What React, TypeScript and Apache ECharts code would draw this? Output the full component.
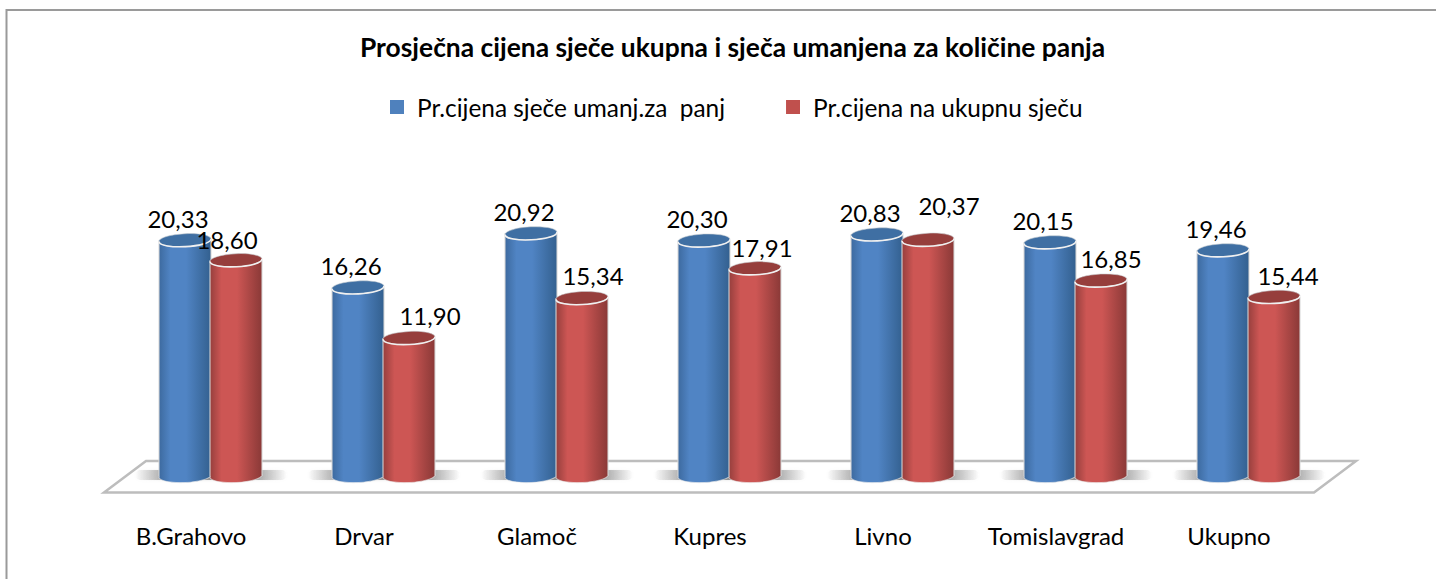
import React, { useEffect, useRef } from "react";
import * as echarts from "echarts";

const categories = ["B.Grahovo", "Drvar", "Glamoč", "Kupres", "Livno", "Tomislavgrad", "Ukupno"];
const umanjenaValues = [20.33, 16.26, 20.92, 20.3, 20.83, 20.15, 19.46];
const ukupnaValues = [18.6, 11.9, 15.34, 17.91, 20.37, 16.85, 15.44];
const redLabelDx = [-9, 21, 11, 7, 21, 10, 14];
const redLabelDy = [-21, -22, -23, -21, -34, -22, -21];
const titleText = "Prosječna cijena sječe ukupna i sječa umanjena za količine panja";
const seriesNames = ["Pr.cijena sječe umanj.za  panj", "Pr.cijena na ukupnu sječu"];

const FONT = "Lato";
const RX = 26;
const RY = 6.5;
const TILT = 0.05;

function sideGradient(edgeL: string, mid: string, edgeR: string) {
  return new echarts.graphic.LinearGradient(0, 0, 1, 0, [
    { offset: 0, color: edgeL },
    { offset: 0.22, color: mid },
    { offset: 0.52, color: mid },
    { offset: 1, color: edgeR },
  ]);
}

function cylinder(offset: number, side: any, topColor: string, dxOf: (i: number) => number, dyOf: (i: number) => number) {
  return (params: any, api: any) => {
    const i = api.value(0);
    const v = api.value(1);
    const [cxBand, top] = api.coord([i, v]);
    const [, base] = api.coord([i, 0]);
    const cx = cxBand + offset;
    return {
      type: "group",
      children: [
        {
          type: "ellipse",
          x: cx,
          y: base,
          rotation: TILT,
          shape: { cx: 0, cy: 0, rx: RX, ry: RY },
          style: { fill: side, stroke: "rgba(235,235,235,0.6)", lineWidth: 1 },
        },
        {
          type: "rect",
          shape: { x: cx - RX, y: top, width: RX * 2, height: base - top },
          style: { fill: side },
        },
        {
          type: "line",
          shape: { x1: cx - RX, y1: top, x2: cx - RX, y2: base },
          style: { stroke: "rgba(215,215,215,0.7)", lineWidth: 1.5 },
        },
        {
          type: "line",
          shape: { x1: cx + RX, y1: top, x2: cx + RX, y2: base },
          style: { stroke: "rgba(215,215,215,0.7)", lineWidth: 1.5 },
        },
        {
          type: "ellipse",
          x: cx,
          y: top,
          rotation: TILT,
          shape: { cx: 0, cy: 0, rx: RX, ry: RY },
          style: { fill: topColor, stroke: "rgba(200,205,210,0.55)", lineWidth: 1 },
        },
        {
          type: "bezierCurve",
          x: cx,
          y: top,
          rotation: TILT,
          shape: { x1: -RX, y1: 0, x2: RX, y2: 0, cpx1: -RX, cpy1: RY * 1.33, cpx2: RX, cpy2: RY * 1.33 },
          style: { fill: "none", stroke: "#f0f0f0", lineWidth: 1.6 },
        },
        {
          type: "text",
          z2: 10,
          style: {
            x: cx + dxOf(i),
            y: top + dyOf(i),
            text: v.toFixed(2).replace(".", ","),
            fill: "#000",
            font: `24px ${FONT}`,
            align: "center",
            verticalAlign: "middle",
          },
        },
      ],
    };
  };
}

function floorShadow(params: any, api: any) {
  const i = api.value(0);
  const [cx, base] = api.coord([i, 0]);
  return {
    type: "rect",
    shape: { x: cx - 76, y: base - 6, width: 152, height: 10, r: 5 },
    style: {
      fill: new echarts.graphic.LinearGradient(0, 0, 1, 0, [
        { offset: 0, color: "rgba(125,125,125,0)" },
        { offset: 0.25, color: "rgba(125,125,125,0.8)" },
        { offset: 0.75, color: "rgba(125,125,125,0.8)" },
        { offset: 1, color: "rgba(125,125,125,0)" },
      ]),
      shadowBlur: 3,
      shadowColor: "rgba(170,170,170,0.4)",
    },
  };
}

export default function App() {
  const ref = useRef<HTMLDivElement>(null);
  useEffect(() => {
    document.body.style.margin = "0";
    const chart = echarts.init(ref.current!, undefined, { renderer: "svg" });
    chart.setOption({
      animation: false,
      backgroundColor: "#fff",
      title: {
        text: titleText,
        left: 360,
        top: 34,
        padding: 0,
        textStyle: { fontFamily: FONT, fontWeight: "bold", fontSize: 26.4, color: "#000" },
      },
      legend: {
        data: seriesNames,
        left: 390,
        top: 95,
        padding: 0,
        itemGap: 61,
        itemWidth: 14,
        itemHeight: 14,
        icon: "rect",
        textStyle: { fontFamily: FONT, fontSize: 24.4, color: "#000", padding: [0, 0, 0, 8] },
      },
      grid: { left: 124.5, width: 1211, top: 186, height: 290 },
      xAxis: {
        type: "category",
        data: categories,
        axisLine: { show: false },
        axisTick: { show: false },
        axisLabel: {
          interval: 0,
          color: "#000",
          fontFamily: FONT,
          fontSize: 24,
          margin: 47,
          padding: [0, 40, 0, 0],
        },
      },
      yAxis: { type: "value", min: 0, max: 25, show: false },
      graphic: [
        {
          type: "polygon",
          z: 0,
          shape: { points: [[104, 492.5], [1314, 492.5], [1356, 461], [146, 461]] },
          style: { fill: "#fff", stroke: "#bdbdbd", lineWidth: 2.5 },
        },
        {
          type: "line",
          z: 0,
          shape: { x1: 6, y1: 10, x2: 1436, y2: 10 },
          style: { stroke: "#9a9a9a", lineWidth: 2 },
        },
        {
          type: "line",
          z: 0,
          shape: { x1: 6.5, y1: 9, x2: 6.5, y2: 579 },
          style: { stroke: "#9a9a9a", lineWidth: 2 },
        },
      ],
      series: [
        {
          type: "custom",
          name: "shadow",
          z: 1,
          silent: true,
          data: categories.map((_, i) => [i, 0]),
          renderItem: floorShadow,
        },
        {
          type: "custom",
          name: seriesNames[0],
          z: 2,
          itemStyle: { color: "#4f81bd" },
          data: umanjenaValues.map((v, i) => [i, v]),
          encode: { x: 0, y: 1 },
          renderItem: cylinder(-26, sideGradient("#3d6a9f", "#5084c4", "#33608f"), "#3f6fa3", () => -7, () => -22),
        },
        {
          type: "custom",
          name: seriesNames[1],
          z: 3,
          itemStyle: { color: "#c0504d" },
          data: ukupnaValues.map((v, i) => [i, v]),
          encode: { x: 0, y: 1 },
          renderItem: cylinder(25, sideGradient("#963f3d", "#cd5654", "#8a3937"), "#963e3c", (i) => redLabelDx[i], (i) => redLabelDy[i]),
        },
      ],
    });
    return () => chart.dispose();
  }, []);
  return <div ref={ref} style={{ width: 1436, height: 579 }} />;
}
